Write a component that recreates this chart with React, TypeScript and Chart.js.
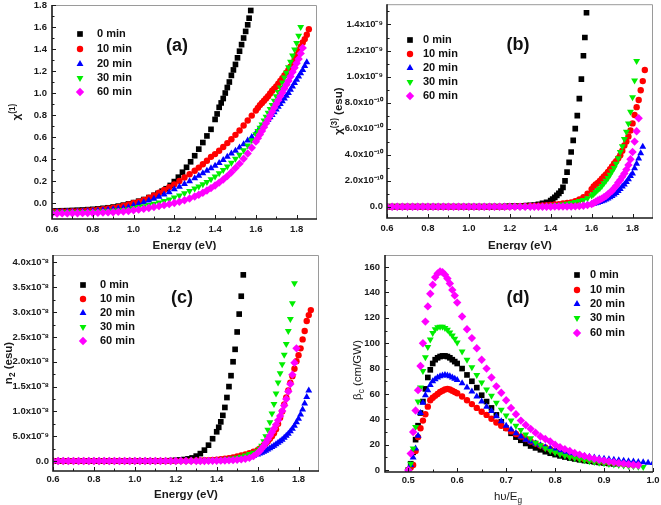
import React, { useEffect, useRef } from 'react';
import { Chart, registerables } from 'chart.js';

Chart.register(...registerables);

// ---------------- data ----------------
const SERIES_NAMES = ['0 min', '10 min', '20 min', '30 min', '60 min'];

// photon energy grids (eV)
const E_0MIN = [0.6,0.625,0.65,0.675,0.7,0.725,0.75,0.775,0.8,0.825,0.85,0.875,0.9,0.925,0.95,0.975,1.0,1.025,1.05,1.075,1.1,
  1.12,1.14,1.16,1.18,1.2,1.22,1.24,1.26,1.28,1.3,1.32,1.34,1.36,1.38,1.4,
  1.41,1.42,1.43,1.44,1.45,1.46,1.47,1.48,1.49,1.5,1.51,1.52,1.53,1.54,1.55,1.56,1.567,1.575];
const E_TREATED = [0.6,0.625,0.65,0.675,0.7,0.725,0.75,0.775,0.8,0.825,0.85,0.875,0.9,0.925,0.95,0.975,1.0,1.025,1.05,1.075,1.1,1.125,1.15,1.175,1.2,1.225,1.25,1.275,1.3,
  1.32,1.34,1.36,1.38,1.4,1.42,1.44,1.46,1.48,1.5,1.52,1.54,1.56,1.58,1.6,
  1.61,1.62,1.63,1.64,1.65,1.66,1.67,1.68,1.69,1.7,1.71,1.72,1.73,1.74,1.75,1.76,1.77,1.78,1.79,1.8,1.81,1.82,1.83,1.84,1.85,1.86];

// (a) chi(1)
const A_0 = [-0.072,-0.071,-0.07,-0.069,-0.067,-0.065,-0.063,-0.06,-0.057,-0.053,-0.048,-0.043,-0.036,-0.028,-0.019,-0.008,0.004,0.017,0.032,0.05,0.07,
  0.088,0.108,0.13,0.16,0.195,0.235,0.28,0.325,0.375,0.43,0.49,0.55,0.61,0.67,0.76,
  0.81,0.87,0.91,0.95,1.0,1.05,1.1,1.16,1.21,1.26,1.32,1.38,1.44,1.5,1.56,1.62,1.68,1.75];
const A_10 = [-0.078,-0.078,-0.077,-0.076,-0.075,-0.073,-0.071,-0.068,-0.065,-0.061,-0.056,-0.05,-0.043,-0.035,-0.025,-0.013,
  0.0,0.012,0.028,0.048,0.07,0.094,0.118,0.143,0.17,0.2,0.232,0.262,0.294,
  0.322,0.353,0.385,0.42,0.445,0.475,0.51,0.545,0.58,0.62,0.66,0.705,0.75,0.795,0.84,
  0.865,0.89,0.91,0.93,0.95,0.97,0.995,1.02,1.04,1.06,1.085,1.11,1.135,1.16,1.185,1.21,1.24,1.27,1.3,1.345,1.39,1.42,1.46,1.49,1.53,1.58];
const A_20 = [-0.082,-0.082,-0.081,-0.08,-0.079,-0.078,-0.076,-0.074,-0.072,-0.069,-0.066,-0.062,-0.057,-0.052,-0.046,-0.039,
  -0.02,-0.006,0.008,0.023,0.04,0.058,0.077,0.097,0.125,0.148,0.172,0.198,0.225,
  0.248,0.27,0.293,0.316,0.34,0.365,0.392,0.42,0.45,0.475,0.505,0.535,0.568,0.6,0.635,
  0.655,0.675,0.695,0.715,0.735,0.755,0.78,0.8,0.825,0.85,0.875,0.9,0.925,0.95,0.975,1.0,1.03,1.06,1.09,1.12,1.15,1.18,1.21,1.245,1.28];
const A_30 = [-0.088,-0.088,-0.087,-0.087,-0.086,-0.085,-0.084,-0.083,-0.081,-0.079,-0.077,-0.074,-0.071,-0.067,-0.063,-0.058,
  -0.045,-0.037,-0.028,-0.018,-0.007,0.005,0.018,0.033,0.05,0.068,0.088,0.11,0.132,
  0.15,0.17,0.192,0.216,0.242,0.27,0.3,0.332,0.366,0.402,0.44,0.48,0.522,0.57,0.625,
  0.655,0.685,0.715,0.75,0.785,0.82,0.855,0.89,0.93,0.97,1.01,1.05,1.095,1.14,1.185,1.235,1.285,1.34,1.395,1.455,1.52,1.6];
const A_60 = [-0.095,-0.095,-0.094,-0.094,-0.093,-0.093,-0.092,-0.091,-0.09,-0.089,-0.087,-0.085,-0.083,-0.08,-0.077,-0.073,
  -0.066,-0.06,-0.053,-0.045,-0.037,-0.028,-0.019,-0.01,0.0,0.012,0.026,0.042,0.06,
  0.076,0.094,0.114,0.136,0.16,0.186,0.214,0.245,0.28,0.318,0.358,0.402,0.45,0.502,0.558,
  0.59,0.622,0.655,0.69,0.725,0.76,0.795,0.83,0.865,0.9,0.935,0.97,1.005,1.04,1.075,1.11,1.15,1.19,1.23,1.27,1.31,1.36,1.41];

// (b) chi(3) in units of 1e-10 esu
const B_UNIT = 1e-10;
const B_0 = [0,0,0,0,0,0,0,0,0,0,0,0,0,0,0,0,0,0,0,0,0,
  0,0.01,0.01,0.02,0.03,0.04,0.05,0.06,0.08,0.1,0.13,0.18,0.25,0.33,0.46,
  0.58,0.72,0.87,1.02,1.2,1.48,1.98,2.65,3.4,4.2,5.1,6.0,7.0,8.3,9.8,11.6,13.0,14.9];
const B_10 = [0,0,0,0,0,0,0,0,0,0,0,0,0,0,0,0,0,0,0,0,0,0,0,0,0.01,0.02,0.03,0.04,0.05,
  0.06,0.08,0.1,0.12,0.14,0.17,0.2,0.24,0.28,0.33,0.42,0.55,0.72,1.0,1.35,
  1.55,1.7,1.82,1.98,2.15,2.32,2.48,2.66,2.88,3.1,3.32,3.5,3.72,3.95,4.3,4.7,5.0,5.4,5.85,6.4,7.05,7.65,8.2,8.95,9.65,10.5];
const B_20 = [0,0,0,0,0,0,0,0,0,0,0,0,0,0,0,0,0,0,0,0,0,0,0,0,0,0,0,0,0,
  0.01,0.01,0.01,0.02,0.02,0.02,0.03,0.03,0.04,0.05,0.07,0.09,0.12,0.16,0.2,
  0.23,0.26,0.3,0.36,0.42,0.48,0.55,0.63,0.72,0.82,0.93,1.05,1.2,1.35,1.55,1.7,1.9,2.1,2.35,2.55,2.95,3.3,3.7,4.1,4.6];
const B_30 = [0,0,0,0,0,0,0,0,0,0,0,0,0,0,0,0,0,0,0,0,0,0,0,0,0.01,0.01,0.01,0.02,0.02,
  0.03,0.04,0.05,0.06,0.08,0.1,0.13,0.17,0.22,0.28,0.35,0.43,0.52,0.65,0.85,
  0.98,1.13,1.28,1.42,1.58,1.8,2.0,2.2,2.45,2.72,2.98,3.3,3.72,4.2,4.65,5.2,5.75,6.4,7.3,8.4,9.7,11.2];
const B_60 = [0,0,0,0,0,0,0,0,0,0,0,0,0,0,0,0,0,0,0,0,0,0,0,0,0,0,0,0,0,
  0,0,0,0,0,0.01,0.01,0.01,0.01,0.01,0.02,0.04,0.07,0.12,0.2,
  0.28,0.38,0.48,0.55,0.62,0.72,0.82,0.95,1.1,1.22,1.42,1.6,1.85,2.05,2.3,2.55,2.85,3.2,3.65,4.2,5.0,5.8,6.8];

// (c) n2 in units of 1e-9 esu
const C_UNIT = 1e-9;
const C_0 = [0,0,0,0,0,0,0,0,0,0,0,0,0,0,0,0,0,0,0,0,0,
  0,0.03,0.06,0.1,0.15,0.22,0.31,0.44,0.63,1.0,1.5,2.2,3.2,4.5,5.9,
  6.8,7.9,9.2,10.8,12.8,15.0,17.2,20.0,22.5,26.0,29.6,33.2,37.5];
const C_10 = [0,0,0,0,0,0,0,0,0,0,0,0,0,0,0,0,0,0,0,0,0,0,0,0,0.02,0.04,0.06,0.08,0.1,
  0.12,0.15,0.19,0.24,0.3,0.38,0.48,0.6,0.75,0.92,1.12,1.35,1.6,1.9,2.2,
  2.5,2.8,3.2,3.6,4.0,4.5,5.0,5.6,6.4,7.5,8.7,10.0,11.4,12.8,14.2,15.8,17.1,18.6,20.1,21.3,22.7,24.5,26.2,28.2,29.4,30.4];
const C_20 = [0,0,0,0,0,0,0,0,0,0,0,0,0,0,0,0,0,0,0,0,0,0,0,0,0,0,0.01,0.01,0.02,
  0.03,0.04,0.05,0.07,0.09,0.12,0.16,0.21,0.28,0.36,0.47,0.6,0.78,1.0,1.3,
  1.5,1.7,1.9,2.1,2.35,2.6,2.85,3.1,3.4,3.7,4.0,4.3,4.7,5.1,5.5,6.0,6.5,7.1,7.8,8.5,9.4,10.4,11.6,12.9,14.2];
const C_30 = [0,0,0,0,0,0,0,0,0,0,0,0,0,0,0,0,0,0,0,0,0,0,0,0,0.01,0.02,0.03,0.04,0.05,
  0.06,0.08,0.1,0.13,0.17,0.22,0.29,0.38,0.5,0.65,0.85,1.1,1.4,1.7,2.0,
  2.5,3.1,4.0,5.0,6.3,7.8,9.6,11.5,13.6,15.8,17.7,19.5,21.4,23.6,26.2,28.6,31.8,35.8];
const C_60 = [0,0,0,0,0,0,0,0,0,0,0,0,0,0,0,0,0,0,0,0,0,0,0,0,0,0,0,0,0,
  0.01,0.02,0.03,0.04,0.06,0.08,0.1,0.14,0.19,0.25,0.34,0.46,0.65,1.0,1.6,
  2.0,2.5,3.0,3.7,4.4,5.1,5.8,6.5,7.3,8.2,9.1,10.1,11.2,12.5,14.0,15.5,17.4,19.8,22.7];

// (d) beta_c (cm/GW) versus h·nu/Eg
const H_D = [0.5,0.505,0.51,0.515,0.52,0.525,0.53,0.535,0.54,0.545,0.55,0.555,0.56,0.565,0.57,0.575,0.58,0.585,0.59,0.595,0.6,
  0.61,0.62,0.63,0.64,0.65,0.66,0.67,0.68,0.69,0.7,0.71,0.72,0.73,0.74,0.75,0.76,0.77,0.78,0.79,0.8,
  0.81,0.82,0.83,0.84,0.85,0.86,0.87,0.88,0.89,0.9,0.91,0.92,0.93,0.94,0.95,0.96,0.97,0.98,0.99,1.0];
const D_0 = [0,5,14,24,35,45,54,64,73,79,84,87,88.5,89.5,90,90,89.5,88.5,87,85.5,84,
  80,75,70,65,59,54,49,43.5,38,33,29,26,23.5,21,19,17.5,16,14.5,13.3,12.2,11.2,10.3,9.5,8.8,8.1,7.5,7.0,6.5,6.0,5.6,5.2,4.9];
const D_10 = [0,2,4,15,26,33,39,44,50,55,57,58.5,60,61.5,62.5,63.5,64,63.5,62.5,61.5,60.5,
  58,55,52,49,46,43.5,40.5,37.5,35,33,30.5,28.5,26.5,24.5,22.5,21,19.3,17.8,16.4,15,13.8,12.6,11.5,10.5,9.6,8.8,8.1,7.5,6.9,6.4,5.9,5.5,5.1,4.8,4.5,4.2];
const D_20 = [0,4,10,17,27,45,53,59,63,67,70,71.5,73,74,74.5,75,74.5,74,73,72,71,
  68.5,65,62,58,54,50,46.5,42.5,38.5,35,32,29,26.5,24,22.5,21,19.5,18,17,16,15,14,13.2,12.5,11.8,11.1,10.5,10,9.4,8.9,8.5,8.1,7.7,7.3,7.0,6.7,6.4,6.1,5.8,5.5];
const D_30 = [0,5,17,34,54,65,78,89,97,103,108,111,112.5,113,113,112,110.5,108.5,106,103.5,100.5,
  93.5,87,81,75,69,63.5,58.5,53,47.5,43,39,35,31.5,28,25,21.5,19.5,17.2,15.3,13.8,12.5,11.3,10.2,9.3,8.5,7.7,7.0,6.4,5.8,5.3,4.8,4.4,4.0,3.6,3.3,3.0,2.7,2.5];
const D_60 = [0,13,30,47,63,82,100,117,129,139,146,152,155,156.5,156,154,151,147,142,137.5,132,
  121,111,104,96,87,80,73,66,61,55,49,44,39,35.5,32.5,29.5,26.5,24.5,22.5,20,18,16.5,15,13.5,12.2,11,10,9,8.2,7.5,6.8,6.2,5.6,5.1,4.6,4.2,3.8];

// tick values
const E_TICKS = [0.6, 0.8, 1.0, 1.2, 1.4, 1.6, 1.8];
const A_Y_TICKS = [0, 0.2, 0.4, 0.6, 0.8, 1.0, 1.2, 1.4, 1.6, 1.8];
const B_Y_TICKS = [0, 2, 4, 6, 8, 10, 12, 14];
const C_Y_TICKS = [0, 5, 10, 15, 20, 25, 30, 35, 40];
const D_X_TICKS = [0.5, 0.6, 0.7, 0.8, 0.9, 1.0];
const D_Y_TICKS = [0, 20, 40, 60, 80, 100, 120, 140, 160];

// ---------------- styling ----------------
const FONT = "'Liberation Sans', Arial, Helvetica, sans-serif";
const COLORS = ['#000000', '#ff0000', '#0000ff', '#00ee00', '#ff00ff'];
const STYLES = ['rect', 'circle', 'triangle', 'triangle', 'rectRot'];
const ROTS = [0, 0, 0, 180, 0];
const RADII = [4, 3.2, 4, 4, 4.2];

type Seg = { t: string; sup?: boolean; sub?: boolean };

const sup = (n: string) => n.split('').map((c) => ({ '-': '⁻', '0': '⁰', '1': '¹', '8': '⁸', '9': '⁹' } as any)[c] || c).join('');

const fmtE = (v: number) => v.toFixed(1);
const fmtB = (v: number) => (Math.abs(v) < 1e-9 ? '0.0' : v >= 10 ? (v / 10).toFixed(1) + 'x10' + sup('-9') : v.toFixed(1) + 'x10' + sup('-10'));
const fmtC = (v: number) => (Math.abs(v) < 1e-9 ? '0.0' : v >= 10 ? (v / 10).toFixed(1) + 'x10' + sup('-8') : v.toFixed(1) + 'x10' + sup('-9'));

interface Panel {
  left: number; top: number; w: number; h: number;
  padTop: number; padRight: number; yWidth: number; xHeight: number;
  xMin: number; xMax: number; yMin: number; yMax: number;
  xTicks: number[]; yTicks: number[];
  xFmt: (v: number) => string; yFmt: (v: number) => string;
  xPad: number; yPad: number;
  series: { x: number[]; y: number[] }[];
  xTitle: Seg[]; yTitle: Seg[]; titleWeight: string;
  xTitleX?: number; xTitleY: number; yTitleX: number; yTitleY?: number;
  legendX: number; legendTextX: number; legendY: number[];
  tag: string; tagX: number; tagY: number;
}

const PANELS: Panel[] = [
  {
    left: 0, top: 0, w: 330, h: 250, padTop: 5, padRight: 13, yWidth: 52, xHeight: 31,
    xMin: 0.6, xMax: 1.9, yMin: -0.145, yMax: 1.8, xTicks: E_TICKS, yTicks: A_Y_TICKS,
    xFmt: fmtE, yFmt: (v) => v.toFixed(1), xPad: 5, yPad: 5,
    series: [{ x: E_0MIN, y: A_0 }, { x: E_TREATED, y: A_10 }, { x: E_TREATED, y: A_20 }, { x: E_TREATED, y: A_30 }, { x: E_TREATED, y: A_60 }],
    xTitle: [{ t: 'Energy (eV)' }], yTitle: [{ t: 'χ' }, { t: '(1)', sup: true }], titleWeight: 'bold',
    xTitleY: 246, yTitleX: 17,
    legendX: 80, legendTextX: 97, legendY: [34, 49, 64, 78, 92], tag: '(a)', tagX: 177, tagY: 46,
  },
  {
    left: 330, top: 0, w: 331, h: 250, padTop: 4, padRight: 8, yWidth: 57, xHeight: 32,
    xMin: 0.6, xMax: 1.9, yMin: -0.87, yMax: 15.56, xTicks: E_TICKS, yTicks: B_Y_TICKS,
    xFmt: fmtE, yFmt: fmtB, xPad: 5, yPad: 4,
    series: [{ x: E_0MIN, y: B_0 }, { x: E_TREATED, y: B_10 }, { x: E_TREATED, y: B_20 }, { x: E_TREATED, y: B_30 }, { x: E_TREATED, y: B_60 }],
    xTitle: [{ t: 'Energy (eV)' }], yTitle: [{ t: 'χ' }, { t: '(3)', sup: true }, { t: ' (esu)' }], titleWeight: 'bold',
    xTitleY: 246, yTitleX: 9,
    legendX: 80, legendTextX: 93, legendY: [40, 54, 68, 82, 96], tag: '(b)', tagX: 188, tagY: 45,
  },
  {
    left: 0, top: 250, w: 330, h: 255, padTop: 5, padRight: 11, yWidth: 53, xHeight: 34,
    xMin: 0.6, xMax: 1.9, yMin: -2, yMax: 41.5, xTicks: E_TICKS, yTicks: C_Y_TICKS,
    xFmt: fmtE, yFmt: fmtC, xPad: 3, yPad: 4,
    series: [{ x: E_0MIN, y: C_0 }, { x: E_TREATED, y: C_10 }, { x: E_TREATED, y: C_20 }, { x: E_TREATED, y: C_30 }, { x: E_TREATED, y: C_60 }],
    xTitle: [{ t: 'Energy (eV)' }], yTitle: [{ t: 'n' }, { t: '2', sub: true }, { t: ' (esu)' }], titleWeight: 'bold',
    xTitleY: 245, yTitleX: 9,
    legendX: 83, legendTextX: 100, legendY: [35, 49, 63, 77, 91], tag: '(c)', tagX: 182, tagY: 48,
  },
  {
    left: 330, top: 250, w: 331, h: 255, padTop: 5, padRight: 8, yWidth: 55, xHeight: 33,
    xMin: 0.4525, xMax: 1.0, yMin: -1.5, yMax: 169.5, xTicks: D_X_TICKS, yTicks: D_Y_TICKS,
    xFmt: fmtE, yFmt: (v) => String(Math.round(v)), xPad: 3, yPad: 5,
    series: [{ x: H_D, y: D_0 }, { x: H_D, y: D_10 }, { x: H_D, y: D_20 }, { x: H_D, y: D_30 }, { x: H_D, y: D_60 }],
    xTitle: [{ t: 'hυ/E' }, { t: 'g', sub: true }], yTitle: [{ t: 'β' }, { t: 'c', sub: true }, { t: ' (cm/GW)' }], titleWeight: 'normal',
    xTitleX: 178, xTitleY: 247, yTitleX: 28, yTitleY: 120,
    legendX: 247, legendTextX: 260, legendY: [25, 40, 54, 68, 83], tag: '(d)', tagX: 188, tagY: 48,
  },
];

function drawMarker(ctx: CanvasRenderingContext2D, i: number, x: number, y: number) {
  const r = RADII[i];
  ctx.fillStyle = COLORS[i];
  ctx.beginPath();
  const st = STYLES[i];
  if (st === 'rect') {
    const s = Math.SQRT1_2 * r;
    ctx.rect(x - s, y - s, 2 * s, 2 * s);
  } else if (st === 'circle') {
    ctx.arc(x, y, r, 0, Math.PI * 2);
  } else if (st === 'triangle') {
    let a = (ROTS[i] * Math.PI) / 180;
    ctx.moveTo(x + Math.sin(a) * r, y - Math.cos(a) * r);
    a += (2 * Math.PI) / 3;
    ctx.lineTo(x + Math.sin(a) * r, y - Math.cos(a) * r);
    a += (2 * Math.PI) / 3;
    ctx.lineTo(x + Math.sin(a) * r, y - Math.cos(a) * r);
    ctx.closePath();
  } else {
    ctx.moveTo(x - r, y);
    ctx.lineTo(x, y - r);
    ctx.lineTo(x + r, y);
    ctx.lineTo(x, y + r);
    ctx.closePath();
  }
  ctx.fill();
}

function drawRich(ctx: CanvasRenderingContext2D, segs: Seg[], cx: number, cy: number, size: number, weight: string, rotate: boolean) {
  ctx.save();
  ctx.translate(cx, cy);
  if (rotate) ctx.rotate(-Math.PI / 2);
  const parts = segs.map((s) => {
    const sz = s.sup || s.sub ? size * 0.72 : size;
    ctx.font = `${weight} ${sz}px ${FONT}`;
    return { ...s, sz, w: ctx.measureText(s.t).width };
  });
  const total = parts.reduce((acc, p) => acc + p.w, 0);
  let x = -total / 2;
  ctx.textBaseline = 'middle';
  ctx.textAlign = 'left';
  ctx.fillStyle = '#1a1a1a';
  for (const p of parts) {
    ctx.font = `${weight} ${p.sz}px ${FONT}`;
    const dy = p.sup ? -size * 0.38 : p.sub ? size * 0.32 : 0;
    ctx.fillText(p.t, x, dy);
    x += p.w;
  }
  ctx.restore();
}

function minorTicks(major: number[], min: number, max: number) {
  const step = major[1] - major[0];
  const out: number[] = [];
  for (let k = -1; k < major.length; k++) {
    const v = major[0] + (k + 0.5) * step;
    if (v > min + step * 0.05 && v < max - step * 0.05) out.push(v);
  }
  return out;
}

const zeroPad = (s: any) => {
  s.paddingTop = 0;
  s.paddingBottom = 0;
  s.paddingLeft = 0;
  s.paddingRight = 0;
};

function PanelChart({ p }: { p: Panel }) {
  const ref = useRef<HTMLCanvasElement>(null);
  useEffect(() => {
    const decor = {
      id: 'decor',
      afterDraw(chart: any) {
        const ctx: CanvasRenderingContext2D = chart.ctx;
        const a = chart.chartArea;
        const sx = chart.scales.x;
        const sy = chart.scales.y;
        ctx.save();
        ctx.strokeStyle = '#9a9a9a';
        ctx.lineWidth = 1;
        ctx.beginPath();
        ctx.moveTo(a.left, a.top + 0.5);
        ctx.lineTo(a.right - 0.5, a.top + 0.5);
        ctx.lineTo(a.right - 0.5, a.bottom);
        ctx.stroke();
        ctx.strokeStyle = '#1a1a1a';
        ctx.lineWidth = 1.6;
        ctx.beginPath();
        ctx.moveTo(a.left, a.top);
        ctx.lineTo(a.left, a.bottom);
        ctx.lineTo(a.right, a.bottom);
        ctx.stroke();
        ctx.lineWidth = 1;
        ctx.beginPath();
        const tick = (v: number, len: number, horiz: boolean) => {
          if (horiz) {
            const px = Math.round(sx.getPixelForValue(v)) + 0.5;
            ctx.moveTo(px, a.bottom);
            ctx.lineTo(px, a.bottom - len);
          } else {
            const py = Math.round(sy.getPixelForValue(v)) + 0.5;
            ctx.moveTo(a.left, py);
            ctx.lineTo(a.left + len, py);
          }
        };
        p.xTicks.forEach((v) => tick(v, 4, true));
        minorTicks(p.xTicks, p.xMin, p.xMax).forEach((v) => tick(v, 2.5, true));
        p.yTicks.forEach((v) => tick(v, 4, false));
        minorTicks(p.yTicks, p.yMin, p.yMax).forEach((v) => tick(v, 2.5, false));
        ctx.stroke();
        ctx.textBaseline = 'middle';
        ctx.textAlign = 'left';
        SERIES_NAMES.forEach((name, i) => {
          drawMarker(ctx, i, p.legendX, p.legendY[i]);
          ctx.fillStyle = '#111';
          ctx.font = `bold 11px ${FONT}`;
          ctx.fillText(name, p.legendTextX, p.legendY[i]);
        });
        ctx.font = `bold 18px ${FONT}`;
        ctx.textAlign = 'center';
        ctx.fillStyle = '#111';
        ctx.fillText(p.tag, p.tagX, p.tagY);
        ctx.restore();
        const xc = p.xTitleX ?? (a.left + a.right) / 2;
        const yc = p.yTitleY ?? (a.top + a.bottom) / 2;
        drawRich(ctx, p.xTitle, xc, p.xTitleY, 11.5, p.titleWeight, false);
        drawRich(ctx, p.yTitle, p.yTitleX, yc, 11.5, p.titleWeight, true);
      },
    };

    const tickFont = { family: FONT, size: 9.5, weight: 'bold' as const };
    const chart = new Chart(ref.current!, {
      type: 'scatter',
      data: {
        datasets: p.series.map((s, i) => ({
          label: SERIES_NAMES[i],
          data: s.y.map((v, k) => ({ x: s.x[k], y: v })),
          pointStyle: STYLES[i] as any,
          rotation: ROTS[i],
          pointRadius: RADII[i],
          pointHoverRadius: RADII[i],
          backgroundColor: COLORS[i],
          borderColor: COLORS[i],
          pointBorderWidth: 0,
          borderWidth: 0,
          showLine: false,
          order: 4 - i,
        })),
      },
      options: {
        responsive: false,
        animation: false,
        devicePixelRatio: 1,
        events: [],
        layout: { padding: { left: 0, top: p.padTop, right: p.padRight, bottom: 0 } },
        plugins: { legend: { display: false }, tooltip: { enabled: false }, title: { display: false } },
        scales: {
          x: {
            type: 'linear', min: p.xMin, max: p.xMax,
            grid: { display: false, drawTicks: false }, border: { display: false },
            ticks: { font: tickFont, color: '#1a1a1a', padding: p.xPad, autoSkip: false, maxRotation: 0, callback: (v: any) => p.xFmt(Number(v)) },
            afterBuildTicks: (s: any) => { s.ticks = p.xTicks.map((v) => ({ value: v })); },
            afterFit: (s: any) => { s.height = p.xHeight; zeroPad(s); },
          },
          y: {
            type: 'linear', min: p.yMin, max: p.yMax,
            grid: { display: false, drawTicks: false }, border: { display: false },
            ticks: { font: tickFont, color: '#1a1a1a', padding: p.yPad, autoSkip: false, callback: (v: any) => p.yFmt(Number(v)) },
            afterBuildTicks: (s: any) => { s.ticks = p.yTicks.map((v) => ({ value: v })); },
            afterFit: (s: any) => { s.width = p.yWidth; zeroPad(s); },
          },
        },
      },
      plugins: [decor],
    } as any);
    return () => chart.destroy();
  }, []);
  return (
    <canvas
      ref={ref}
      width={p.w}
      height={p.h}
      style={{ position: 'absolute', left: p.left, top: p.top, width: p.w, height: p.h }}
    />
  );
}

export default function App() {
  return (
    <div style={{ position: 'fixed', left: 0, top: 0, width: 661, height: 505, background: '#fff', overflow: 'hidden' }}>
      {PANELS.map((p, i) => (
        <PanelChart key={i} p={p} />
      ))}
    </div>
  );
}
